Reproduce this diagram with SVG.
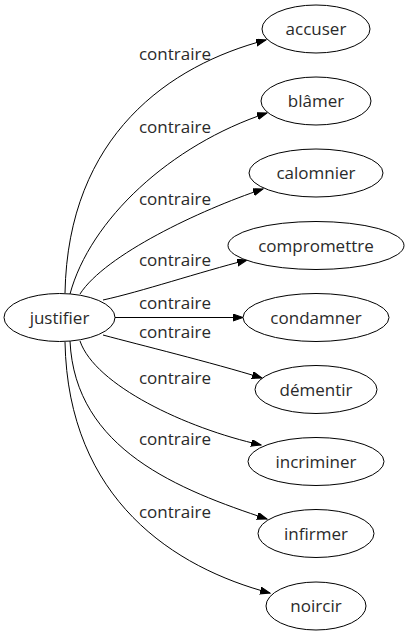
<svg xmlns="http://www.w3.org/2000/svg" width="408" height="635" viewBox="0 0 408 635">
<style>
.n ellipse{fill:#fff;stroke:#000;stroke-width:1}
text{font-family:"Open Sans","Liberation Sans",sans-serif;font-size:17px;fill:#2a2a2a;text-anchor:middle}
.e path{fill:none;stroke:#000;stroke-width:1;marker-end:url(#ah)}
</style>
<defs>
<marker id="ah" markerUnits="userSpaceOnUse" markerWidth="11" markerHeight="8" refX="10" refY="3.5" orient="auto">
<path d="M0,0 L10,3.5 L0,7 z" fill="#000" stroke="#000" stroke-width="1"/>
</marker>
</defs>
<rect width="408" height="635" fill="#fff"/>
<g id="edges" class="e">
<path d="M65,293 C68,135 170,65 266,40"/>
<path d="M70,294 C90,220 170,145 267,113"/>
<path d="M80,294 C105,255 200,210 263,189"/>
<path d="M103,300 C140,292 200,272 247,260"/>
<path d="M115,317.5 L243,317.5"/>
<path d="M103,335 C140,345 210,362 262,378"/>
<path d="M80,341 C95,385 185,428 261,445"/>
<path d="M70,341 C75,450 180,490 267,519"/>
<path d="M65,342 C68,500 175,568 270,593"/>
</g>
<g id="labels">
<text x="175" y="60">contraire</text>
<text x="175" y="133">contraire</text>
<text x="175" y="205">contraire</text>
<text x="175" y="266">contraire</text>
<text x="175" y="309">contraire</text>
<text x="175" y="338">contraire</text>
<text x="175" y="384">contraire</text>
<text x="175" y="445">contraire</text>
<text x="175" y="518">contraire</text>
</g>
<g id="justifier" class="n"><ellipse cx="59.5" cy="317.5" rx="55.5" ry="24"/><text x="59.5" y="323.5">justifier</text></g>
<g id="accuser" class="n"><ellipse cx="316" cy="29" rx="54" ry="24"/><text x="316" y="35">accuser</text></g>
<g id="blamer" class="n"><ellipse cx="316" cy="101" rx="55" ry="24"/><text x="316" y="107">blâmer</text></g>
<g id="calomnier" class="n"><ellipse cx="316" cy="173" rx="67" ry="24"/><text x="316" y="179">calomnier</text></g>
<g id="compromettre" class="n"><ellipse cx="316" cy="245.5" rx="88" ry="24"/><text x="316" y="251.5">compromettre</text></g>
<g id="condamner" class="n"><ellipse cx="316" cy="317.5" rx="73" ry="24"/><text x="316" y="323.5">condamner</text></g>
<g id="dementir" class="n"><ellipse cx="316" cy="389.5" rx="61" ry="24"/><text x="316" y="395.5">démentir</text></g>
<g id="incriminer" class="n"><ellipse cx="316" cy="461.5" rx="68" ry="24"/><text x="316" y="467.5">incriminer</text></g>
<g id="infirmer" class="n"><ellipse cx="316" cy="533.5" rx="58" ry="24"/><text x="316" y="539.5">infirmer</text></g>
<g id="noircir" class="n"><ellipse cx="316" cy="606" rx="50" ry="24"/><text x="316" y="612">noircir</text></g>
</svg>
